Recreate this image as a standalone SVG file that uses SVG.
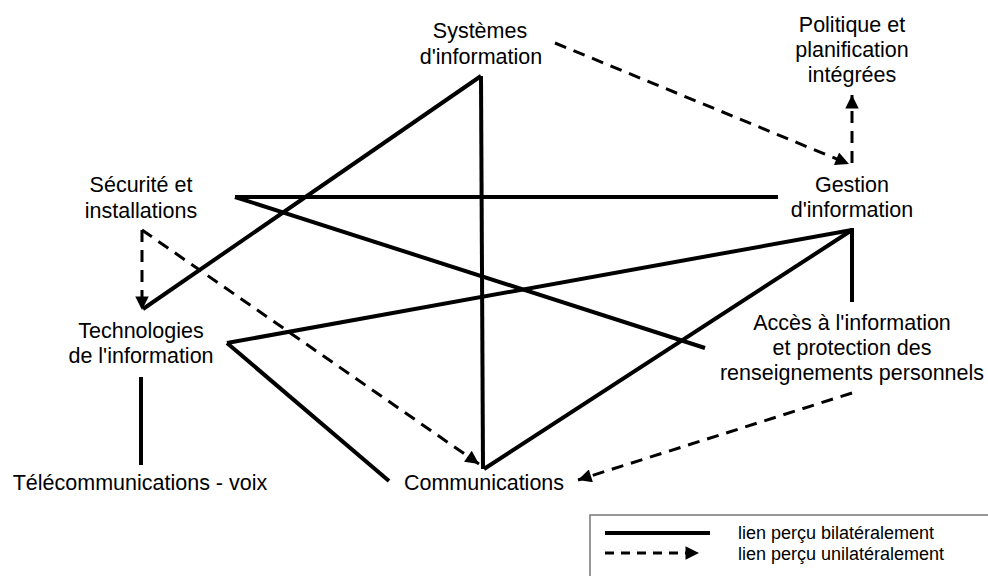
<svg xmlns="http://www.w3.org/2000/svg" width="988" height="576" viewBox="0 0 988 576">
<defs>
<style>
text{font-family:"Liberation Sans",Arial,sans-serif;font-size:21.5px;fill:#000;text-anchor:middle}
.leg{font-size:18px;text-anchor:start}
.s{stroke:#000;stroke-width:4;fill:none;stroke-linecap:butt}
.d{stroke:#000;stroke-width:3;fill:none;stroke-dasharray:12 8}
</style>
<marker id="ah" viewBox="0 0 10 10" refX="10" refY="5" markerWidth="5" markerHeight="4.5" orient="auto" markerUnits="strokeWidth">
<path d="M0,0 L10,5 L0,10 z" fill="#000"/>
</marker>
</defs>
<rect width="988" height="576" fill="#fff"/>
<g id="connectors">
<line class="s" x1="481" y1="76" x2="143" y2="309"/>
<line class="s" x1="481" y1="76" x2="483" y2="469"/>
<line class="s" x1="235" y1="197" x2="778" y2="197"/>
<line class="s" x1="235" y1="197" x2="705" y2="348"/>
<line class="s" x1="227" y1="343" x2="852" y2="230"/>
<line class="s" x1="227" y1="343" x2="389" y2="481"/>
<line class="s" x1="852" y1="230" x2="484" y2="469"/>
<line class="s" x1="852" y1="228" x2="852" y2="302"/>
<line class="s" x1="141" y1="377" x2="141" y2="465"/>
<line class="d" x1="555" y1="43" x2="849" y2="164" marker-end="url(#ah)"/>
<line class="d" x1="852" y1="163" x2="852" y2="95" marker-end="url(#ah)"/>
<line class="d" x1="142" y1="230" x2="142" y2="310" marker-end="url(#ah)"/>
<line class="d" x1="142" y1="230" x2="479" y2="464" marker-end="url(#ah)"/>
<line class="d" x1="852" y1="393" x2="578" y2="480" marker-end="url(#ah)"/>
</g>
<g id="systemes"><text x="480" y="38">Systèmes</text><text x="481" y="64">d'information</text></g>
<g id="politique"><text x="852" y="32">Politique et</text><text x="852" y="57">planification</text><text x="852" y="82">intégrées</text></g>
<g id="securite"><text x="141" y="192">Sécurité et</text><text x="141" y="218">installations</text></g>
<g id="gestion"><text x="852" y="192">Gestion</text><text x="852" y="217">d'information</text></g>
<g id="technologies"><text x="141" y="338">Technologies</text><text x="141" y="363">de l'information</text></g>
<g id="acces"><text x="852" y="330">Accès à l'information</text><text x="852" y="355">et protection des</text><text x="852" y="380">renseignements personnels</text></g>
<g id="telecom"><text x="140" y="490">Télécommunications - voix</text></g>
<g id="communications"><text x="484" y="490">Communications</text></g>
<g id="legend">
<path d="M590,576 V515 H988" stroke="#777" stroke-width="1.5" fill="none"/>
<line x1="605" y1="533" x2="710" y2="533" stroke="#000" stroke-width="4"/>
<line x1="605" y1="553" x2="699" y2="553" stroke="#000" stroke-width="3" stroke-dasharray="9 7" marker-end="url(#ah)"/>
<text class="leg" x="738" y="539">lien perçu bilatéralement</text>
<text class="leg" x="738" y="560">lien perçu unilatéralement</text>
</g>
</svg>
